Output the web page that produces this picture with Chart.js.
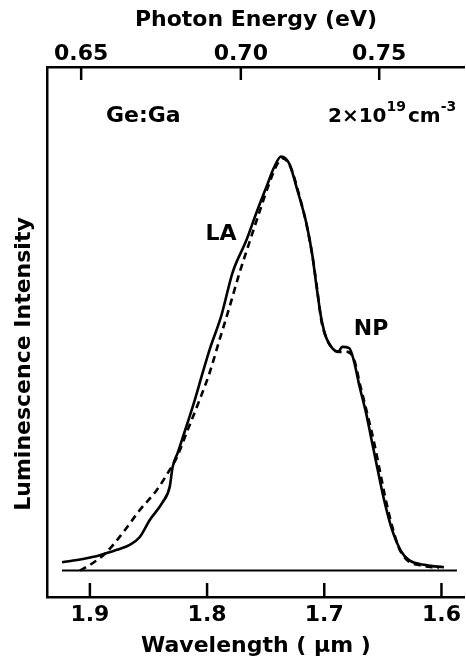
<!DOCTYPE html>
<html>
<head>
<meta charset="utf-8">
<script src="https://cdn.jsdelivr.net/npm/chart.js@4.4.1/dist/chart.umd.min.js"></script>
<style>
  html, body { margin: 0; padding: 0; background: #fff; }
  #plot { display: block; }
</style>
</head>
<body>
<canvas id="plot" width="466" height="666"></canvas>
<script>
// tick labels
const wavelengthTicks = [1.9, 1.8, 1.7, 1.6];
const energyTicks = [0.65, 0.70, 0.75];

// measured spectrum (solid), wavelength in um / relative intensity
const solidWl = [1.9238, 1.9060, 1.8915, 1.8770, 1.8660, 1.8574, 1.8489, 1.8379, 1.8319, 1.8294,
  1.8251, 1.8209, 1.8123, 1.8038, 1.7979, 1.7877, 1.7783, 1.7664, 1.7579, 1.7494, 1.7426, 1.7369,
  1.7298, 1.7230, 1.7153, 1.7102, 1.7068, 1.7026, 1.6983, 1.6932, 1.6881, 1.6847, 1.6787, 1.6745,
  1.6702, 1.6643, 1.6591, 1.6549, 1.6489, 1.6421, 1.6345, 1.6277, 1.6132, 1.5979];
const solidInt = [0.020, 0.028, 0.037, 0.050, 0.062, 0.081, 0.122, 0.165, 0.202, 0.250,
  0.284, 0.320, 0.395, 0.477, 0.533, 0.617, 0.719, 0.798, 0.864, 0.926, 0.975, 1.000,
  0.982, 0.919, 0.839, 0.762, 0.690, 0.610, 0.562, 0.537, 0.528, 0.540, 0.537, 0.504,
  0.448, 0.380, 0.308, 0.250, 0.170, 0.098, 0.047, 0.025, 0.013, 0.008];

// calculated line shape (dashed)
const dashWl = [1.9085, 1.8974, 1.8855, 1.8719, 1.8574, 1.8430, 1.8319, 1.8260, 1.8166, 1.8064,
  1.7979, 1.7894, 1.7809, 1.7723, 1.7638, 1.7553, 1.7468, 1.7400, 1.7357, 1.7289, 1.7221, 1.7145,
  1.7093, 1.7060, 1.7026, 1.6983, 1.6932, 1.6872, 1.6804, 1.6745, 1.6694, 1.6634, 1.6574, 1.6532,
  1.6481, 1.6421, 1.6362, 1.6294, 1.6192, 1.6022];
const dashInt = [0.000, 0.018, 0.045, 0.091, 0.146, 0.194, 0.243, 0.272, 0.339, 0.412,
  0.477, 0.557, 0.636, 0.719, 0.793, 0.866, 0.936, 0.982, 0.996, 0.975, 0.914, 0.827,
  0.745, 0.678, 0.605, 0.562, 0.537, 0.528, 0.528, 0.509, 0.448, 0.380, 0.308, 0.250,
  0.178, 0.107, 0.054, 0.025, 0.013, 0.006];

// zero line
const baseWl = [1.9238, 1.5868];
const baseInt = [0, 0];

const HC = 1.23984; // eV*um
const FONT = '"DejaVu Sans", sans-serif';

function pts(xs, ys) { return xs.map((x, i) => ({ x: x, y: ys[i] })); }

// inward tick marks + text labels
const extras = {
  id: 'extras',
  afterDraw(chart) {
    const ctx = chart.ctx, a = chart.chartArea;
    const sx = chart.scales.x, sx2 = chart.scales.x2;
    ctx.save();
    ctx.strokeStyle = '#000';
    ctx.lineWidth = 2.5;
    wavelengthTicks.forEach(v => {
      const px = sx.getPixelForValue(v);
      ctx.beginPath(); ctx.moveTo(px, a.bottom); ctx.lineTo(px, a.bottom - 14); ctx.stroke();
    });
    energyTicks.forEach(e => {
      const px = sx2.getPixelForValue(HC / e);
      ctx.beginPath(); ctx.moveTo(px, a.top); ctx.lineTo(px, a.top + 13); ctx.stroke();
    });

    ctx.fillStyle = '#000';
    ctx.font = 'bold 22px ' + FONT;
    ctx.textBaseline = 'alphabetic';
    ctx.textAlign = 'left';
    ctx.fillText('Ge:Ga', 106, 122);

    // 2x10^19 cm^-3
    let x = 328;
    ctx.font = 'bold 20px ' + FONT;
    ctx.fillText('2×10', x, 122); x += ctx.measureText('2×10').width;
    ctx.font = 'bold 14px ' + FONT;
    ctx.fillText('19', x, 111); x += ctx.measureText('19').width + 2;
    ctx.font = 'bold 20px ' + FONT;
    ctx.fillText('cm', x, 122); x += ctx.measureText('cm').width;
    ctx.font = 'bold 14px ' + FONT;
    ctx.fillText('-3', x, 111);

    ctx.font = 'bold 22px ' + FONT;
    ctx.textAlign = 'center';
    ctx.textBaseline = 'middle';
    ctx.fillText('LA', 221, 234);
    ctx.fillText('NP', 371, 329);

    // y axis title
    ctx.translate(24, 364);
    ctx.rotate(-Math.PI / 2);
    ctx.fillText('Luminescence Intensity', 0, 0);
    ctx.restore();
  }
};

new Chart(document.getElementById('plot'), {
  type: 'line',
  data: {
    datasets: [
      { data: pts(solidWl, solidInt), borderColor: '#000', borderWidth: 2.6, pointRadius: 0, cubicInterpolationMode: 'monotone' },
      { data: pts(dashWl, dashInt), borderColor: '#000', borderWidth: 2.6, borderDash: [7, 5], pointRadius: 0, cubicInterpolationMode: 'monotone' },
      { data: pts(baseWl, baseInt), borderColor: '#000', borderWidth: 2.2, pointRadius: 0 }
    ]
  },
  options: {
    responsive: false,
    animation: false,
    layout: { padding: 0 },
    plugins: { legend: { display: false }, tooltip: { enabled: false } },
    scales: {
      x: {
        type: 'linear', position: 'bottom', reverse: true, min: 1.58, max: 1.9366,
        grid: { display: false, drawTicks: false },
        border: { display: true, color: '#000', width: 2.5 },
        afterBuildTicks: s => { s.ticks = wavelengthTicks.map(v => ({ value: v })); },
        afterFit: s => { s.height = 69; },
        ticks: { color: '#000', padding: 5, autoSkip: false, maxRotation: 0, font: { family: FONT, size: 22, weight: 'bold' },
          callback: v => v.toFixed(1) },
        title: { display: true, text: 'Wavelength ( μm )', color: '#000', padding: { top: 0, bottom: 7 },
          font: { family: FONT, size: 22, weight: 'bold' } }
      },
      x2: {
        type: 'linear', position: 'top', reverse: true, min: 1.58, max: 1.9366,
        grid: { display: false, drawTicks: false },
        border: { display: true, color: '#000', width: 2.5 },
        afterBuildTicks: s => { s.ticks = energyTicks.map(e => ({ value: HC / e })); },
        afterFit: s => { s.height = 67; },
        ticks: { color: '#000', padding: 0, autoSkip: false, maxRotation: 0, font: { family: FONT, size: 22, weight: 'bold' },
          callback: v => (HC / v).toFixed(2) },
        title: { display: true, text: 'Photon Energy (eV)', color: '#000', padding: { top: 7, bottom: 0 },
          font: { family: FONT, size: 22, weight: 'bold' } }
      },
      y: {
        type: 'linear', min: -0.064, max: 1.216,
        grid: { display: false, drawTicks: false },
        border: { display: true, color: '#000', width: 2.5 },
        ticks: { display: false },
        afterFit: s => { s.width = 47; }
      }
    }
  },
  plugins: [extras]
});
</script>
</body>
</html>
